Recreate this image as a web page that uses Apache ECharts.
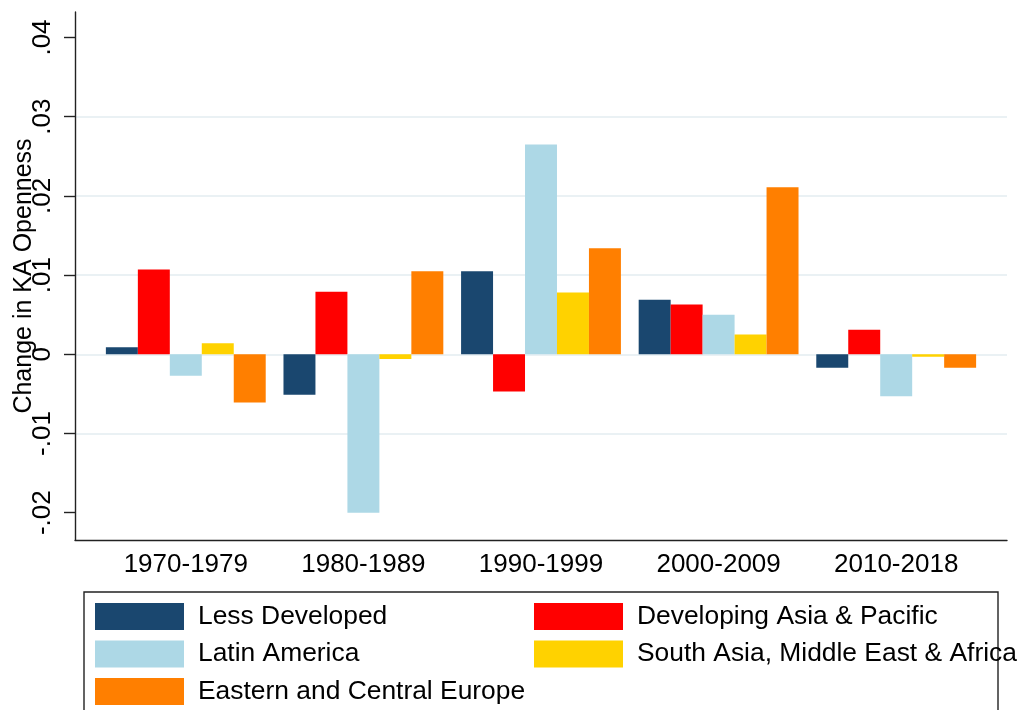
<!DOCTYPE html>
<html>
<head>
<meta charset="utf-8">
<script src="https://cdn.jsdelivr.net/npm/echarts@6/dist/echarts.min.js"></script>
<style>html,body{margin:0;padding:0;background:#fff}#c{width:1019px;height:710px}</style>
</head>
<body>
<div id="c"></div>
<script>
const categories = ['1970-1979', '1980-1989', '1990-1999', '2000-2009', '2010-2018'];
const seriesNames = ['Less Developed', 'Developing Asia & Pacific', 'Latin America', 'South Asia, Middle East & Africa', 'Eastern and Central Europe'];
const lessDeveloped = [0.0009, -0.0051, 0.0105, 0.0069, -0.0017];
const devAsiaPacific = [0.0107, 0.0079, -0.0047, 0.0063, 0.0031];
const latinAmerica = [-0.0027, -0.0200, 0.0265, 0.0050, -0.0053];
const southAsiaMEA = [0.0014, -0.0006, 0.0078, 0.0025, -0.0003];
const easternCentralEurope = [-0.0061, 0.0105, 0.0134, 0.0211, -0.0017];
const yTicks = [-0.02, -0.01, 0, 0.01, 0.02, 0.03, 0.04];
const yTickLabels = ['-.02', '-.01', '0', '.01', '.02', '.03', '.04'];
const yMin = -0.02345, yMax = 0.04322;
const colors = ['#1a476f', '#ff0000', '#add8e6', '#ffd200', '#ff7f00'];
const values = [lessDeveloped, devAsiaPacific, latinAmerica, southAsiaMEA, easternCentralEurope];

const font = 'Liberation Sans, Arial, Helvetica, sans-serif';
const chart = echarts.init(document.getElementById('c'), null, {renderer: 'canvas'});

function fmtY(v) {
  for (let i = 0; i < yTicks.length; i++) if (Math.abs(yTicks[i] - v) < 1e-9) return yTickLabels[i];
  return '';
}

const option = {
  animation: false,
  backgroundColor: '#fff',
  color: colors,
  grid: [
    {left: 75, right: 12, top: 12, bottom: 170, containLabel: false, outerBoundsMode: 'none'},
    {left: 97, right: 34, top: 12, bottom: 170, containLabel: false, outerBoundsMode: 'none'}
  ],
  xAxis: [
    {gridIndex: 0, type: 'value', min: 0, max: 1,
     axisLine: {show: true, onZero: false, lineStyle: {color: '#222', width: 1.4}},
     axisTick: {show: false}, axisLabel: {show: false}, splitLine: {show: false}},
    {gridIndex: 1, type: 'category', data: categories,
     axisLine: {show: false}, axisTick: {show: false},
     axisLabel: {show: true, color: '#000', fontSize: 26, fontFamily: font, margin: 12, interval: 0},
     splitLine: {show: false}}
  ],
  yAxis: [
    {gridIndex: 0, type: 'value', min: yMin, max: yMax,
     name: 'Change in KA Openness', nameLocation: 'middle', nameGap: 38, nameMoveOverlap: false,
     nameTextStyle: {color: '#000', fontSize: 25, fontFamily: font},
     axisLine: {show: true, lineStyle: {color: '#222', width: 1.4}},
     axisTick: {show: true, inside: false, length: 11, customValues: yTicks, lineStyle: {color: '#222', width: 1.4}},
     axisLabel: {show: true, rotate: 90, margin: 19, color: '#000', fontSize: 26, fontFamily: font,
                 customValues: yTicks, formatter: fmtY},
     splitLine: {show: true, showMinLine: false, showMaxLine: false, lineStyle: {color: '#eaf1f4', width: 2}}},
    {gridIndex: 1, type: 'value', min: yMin, max: yMax, show: false,
     axisLine: {show: false}, axisTick: {show: false}, axisLabel: {show: false}, splitLine: {show: false}}
  ],
  legend: [
    {orient: 'vertical', left: 95, top: 603, padding: 0, itemGap: 10.5, itemWidth: 89, itemHeight: 27,
     selectedMode: false, icon: 'rect',
     data: [seriesNames[0], seriesNames[2], seriesNames[4]],
     textStyle: {color: '#000', fontSize: 26.4, fontFamily: font, padding: [3, 0, 0, 9]}},
    {orient: 'vertical', left: 534, top: 603, padding: 0, itemGap: 10.5, itemWidth: 89, itemHeight: 27,
     selectedMode: false, icon: 'rect',
     data: [seriesNames[1], seriesNames[3]],
     textStyle: {color: '#000', fontSize: 26.4, fontFamily: font, padding: [3, 0, 0, 9]}}
  ],
  graphic: [
    {type: 'rect', z: -1, shape: {x: 84, y: 592, width: 914, height: 140},
     style: {fill: 'none', stroke: '#222', lineWidth: 1.4}}
  ],
  series: seriesNames.map((n, i) => ({
    name: n, type: 'bar', xAxisIndex: 1, yAxisIndex: 1,
    data: values[i], barGap: '0%', barCategoryGap: '10%',
    itemStyle: {color: colors[i]}
  }))
};
chart.setOption(option);
</script>
</body>
</html>
